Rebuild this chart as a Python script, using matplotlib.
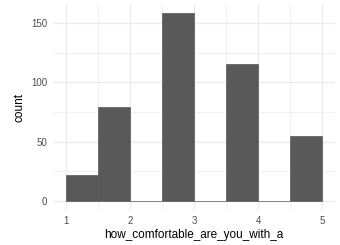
import numpy as np
import matplotlib; matplotlib.use("Agg")
import matplotlib.pyplot as plt

# histogram of responses, binwidth 0.5 from 1 to 5
bin_left = [1.0, 1.5, 2.0, 2.5, 3.0, 3.5, 4.0, 4.5]
counts = [22, 79, 0, 158, 0, 115, 0, 55]
binwidth = 0.5
xticks = [1, 2, 3, 4, 5]
yticks = [0, 50, 100, 150]

plt.rcParams['font.family'] = ['Liberation Sans', 'DejaVu Sans']
fig = plt.figure(figsize=(3.4, 2.45), dpi=100)
ax = fig.add_axes([0.156, 0.141, 0.829, 0.843])

ax.bar(bin_left, counts, width=binwidth, align="edge", color="#595959",
       edgecolor="#595959", linewidth=0.5, zorder=3)

ax.set_xlim(0.8, 5.2)
ymax = max(counts)
ax.set_ylim(-0.05 * ymax, 1.05 * ymax)
ax.set_xticks(xticks)
ax.set_yticks(yticks)
ax.set_xticks(np.arange(1.5, 5, 1), minor=True)
ax.set_yticks([25, 75, 125], minor=True)
ax.grid(which="major", color="#EBEBEB", linewidth=0.9, zorder=0)
ax.grid(which="minor", color="#EBEBEB", linewidth=0.5, zorder=0)
ax.tick_params(which="both", length=0, labelsize=7, labelcolor="#4D4D4D", pad=4)
for s in ax.spines.values():
    s.set_visible(False)
ax.set_xlabel("how_comfortable_are_you_with_a", fontsize=8.5, labelpad=2)
ax.set_ylabel("count", fontsize=8.5, labelpad=4)

fig.savefig("out.png", dpi=100)
